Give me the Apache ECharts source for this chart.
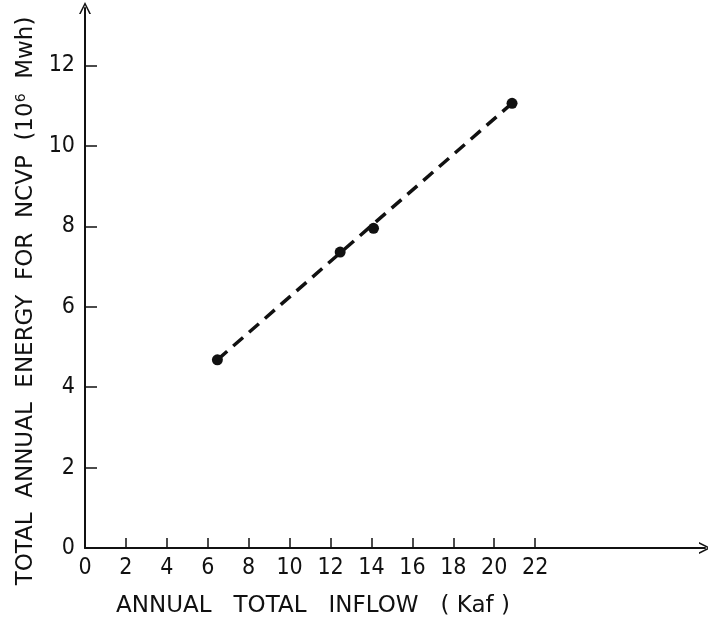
<!DOCTYPE html>
<html>
<head>
<meta charset="utf-8">
<script src="https://cdn.jsdelivr.net/npm/echarts@6/dist/echarts.min.js"></script>
<style>
  html, body { margin: 0; padding: 0; background: #fff; }
  #chart { width: 708px; height: 628px; }
</style>
</head>
<body>
<div id="chart"></div>
<script>
// Annual inflow (Kaf) vs. total annual energy (10^6 MWh)
const inflow = [6.47, 12.47, 14.1, 20.87];
const energy = [4.68, 7.36, 7.95, 11.06];
// Ends of the fitted dashed trend line
const trendX = [6.47, 20.87];
const trendY = [4.68, 11.06];
const xTicks = [0, 2, 4, 6, 8, 10, 12, 14, 16, 18, 20, 22];
const yTicks = [0, 2, 4, 6, 8, 10, 12];

const font = '"DejaVu Sans", sans-serif';
const tickFont = '"Liberation Sans Narrow", "DejaVu Sans Condensed", "DejaVu Sans", sans-serif';
const ink = '#111';
const chevron = 'path://M0,10 L5,0 L10,10 L8.6,10 L5,2.8 L1.4,10 Z';

const chart = echarts.init(document.getElementById('chart'), null, { renderer: 'canvas' });
chart.setOption({
  backgroundColor: '#fff',
  animation: false,
  grid: { left: 85, right: 3, top: 8, bottom: 80, containLabel: false, outerBoundsMode: 'none' },
  xAxis: {
    type: 'value', min: 0, max: 30.3, interval: 2,
    splitLine: { show: false },
    axisLine: { lineStyle: { color: ink, width: 2 }, symbol: ['none', chevron], symbolSize: [12, 16] },
    axisTick: { inside: true, length: 10, lineStyle: { color: ink, width: 1.5 }, customValues: xTicks.slice(1) },
    axisLabel: { customValues: xTicks, color: ink, fontFamily: tickFont, fontSize: 23, margin: 9 },
    name: 'ANNUAL   TOTAL   INFLOW   ( Kaf )',
    nameLocation: 'middle', nameGap: 47,
    nameTextStyle: { color: ink, fontFamily: font, fontSize: 23, padding: [0, 164, 0, 0] }
  },
  yAxis: {
    type: 'value', min: 0, max: 13.43, interval: 2,
    splitLine: { show: false },
    axisLine: { lineStyle: { color: ink, width: 2 }, symbol: ['none', chevron], symbolSize: [12, 16] },
    axisTick: { inside: true, length: 12, lineStyle: { color: ink, width: 1.5 }, customValues: yTicks.slice(1) },
    axisLabel: { customValues: yTicks, color: ink, fontFamily: tickFont, fontSize: 23, margin: 10 },
    name: 'TOTAL  ANNUAL  ENERGY  FOR  NCVP  (10{sup|6}  Mwh)',
    nameLocation: 'middle', nameGap: 46, nameRotate: 90,
    nameTextStyle: {
      color: ink, fontFamily: font, fontSize: 23, padding: [0, 46, 0, 0],
      rich: { sup: { fontSize: 14, verticalAlign: 'top', padding: [0, 0, 10, 0], color: ink, fontFamily: font } }
    }
  },
  series: [
    {
      type: 'line',
      data: trendX.map((x, i) => [x, trendY[i]]),
      symbol: 'none',
      lineStyle: { color: ink, width: 3.5, type: [13, 8] },
      z: 2
    },
    {
      type: 'scatter',
      data: inflow.map((x, i) => [x, energy[i]]),
      symbol: 'circle', symbolSize: 11,
      itemStyle: { color: ink, opacity: 1 },
      z: 3
    }
  ]
});
</script>
</body>
</html>
